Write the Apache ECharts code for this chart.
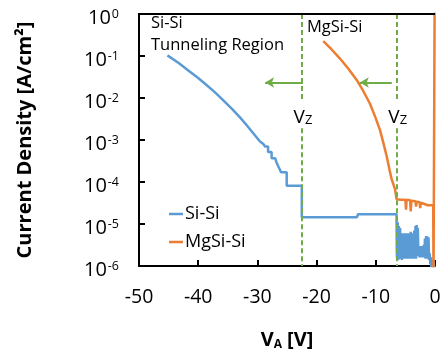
<!DOCTYPE html>
<html>
<head>
<meta charset="utf-8">
<script src="https://cdn.jsdelivr.net/npm/echarts@6/dist/echarts.min.js"></script>
<style>html,body{margin:0;padding:0;background:#fff;}#c{width:446px;height:356px;}</style>
</head>
<body>
<div id="c"></div>
<script>
// ---- Data ----
const seriesNames = ['Si-Si', 'MgSi-Si'];

const siV = [-45.2, -43.3, -41.4, -40.0, -38.6, -37.2, -35.8, -34.3, -32.9, -31.8, -30.7, -29.6,
  -29.0, -28.7, -28.7, -28.2, -28.2, -27.6, -27.6, -27.0, -26.8, -26.5, -26.2, -26.0, -25.05, -25.05,
  -22.5, -22.5, -13.2, -13.0, -6.5, -6.45,
  -6.4, -6.3, -6.2, -6.1, -6.0, -5.9, -5.8, -5.7, -5.6, -5.5,
  -5.4, -5.3, -5.2, -5.1, -5.0, -4.9, -4.8, -4.7, -4.6, -4.5,
  -4.4, -4.3, -4.2, -4.1, -4.0, -3.9, -3.8, -3.7, -3.6, -3.5,
  -3.4, -3.3, -3.2, -3.1, -3.0, -2.9, -2.8, -2.7, -2.6, -2.5,
  -2.4, -2.3, -2.2, -2.1, -2.0, -1.9, -1.8, -1.7, -1.6, -1.5,
  -1.4, -1.3, -1.2, -1.1, -1.0, -0.9, -0.8, -0.7, -0.6, -0.5,
  -0.4, -0.3, -0.2, -0.1, 0];
const siJ = [0.1035, 0.068, 0.042, 0.030, 0.0204, 0.0138, 0.0089, 0.0055, 0.0034, 0.00224, 0.00145, 9.3e-4,
  8.0e-4, 8.0e-4, 7.0e-4, 7.0e-4, 5.2e-4, 5.2e-4, 3.7e-4, 3.7e-4, 3.0e-4, 2.4e-4, 2.4e-4, 1.7e-4, 1.7e-4, 8.1e-5,
  8.1e-5, 1.45e-5, 1.45e-5, 1.7e-5, 1.7e-5, 2e-6,
  1.5e-6, 1.1e-5, 1.4e-6, 9e-6, 1.5e-6, 8e-6, 1.6e-6, 6e-6, 1.4e-6, 6e-6,
  1.6e-6, 5.5e-6, 1.5e-6, 6e-6, 1.7e-6, 5.5e-6, 1.5e-6, 6e-6, 1.6e-6, 5e-6,
  1.5e-6, 6e-6, 1.7e-6, 6.5e-6, 1.5e-6, 6e-6, 1.6e-6, 6e-6, 1.5e-6, 7e-6,
  1.6e-6, 9e-6, 1.5e-6, 9.5e-6, 1.7e-6, 8e-6, 1.8e-6, 3e-6, 1.6e-6, 3e-6,
  1.8e-6, 2.8e-6, 1.6e-6, 3e-6, 1.7e-6, 3.2e-6, 1.6e-6, 4.5e-6, 1.5e-6, 5.2e-6,
  1.6e-6, 5e-6, 1.5e-6, 4.8e-6, 1.4e-6, 2e-6, 1.1e-6, 1.6e-6, 8e-7, 1.4e-6,
  1.2e-6, 1.4e-6, 1.2e-6, 1.3e-6, 5e-7];

const mgV = [-18.87, -17.5, -16.05, -14.6, -13.2, -12.1, -11.0, -10.1, -9.3, -8.7, -8.16, -7.7, -7.31, -6.76, -6.5,
  -6.3, -5.8, -5.6, -5.0, -4.9, -4.8, -4.2, -4.1,
  -4.0, -3.3, -3.2, -3.1, -2.6, -2.5, -2.4, -1.8, -1.6, -1.2,
  -1.1, -0.8, -0.6, -0.3, -0.25, -0.05, -0.05];
const mgJ = [0.226, 0.145, 0.087, 0.049, 0.0266, 0.0145, 0.0074, 0.00355, 0.00174, 8.3e-4, 4.1e-4, 2.0e-4, 1.15e-4, 6.8e-5, 3.9e-5,
  3.8e-5, 3.8e-5, 3.9e-5, 3.8e-5, 2.2e-5, 3.8e-5, 3.7e-5, 2.0e-5,
  3.6e-5, 3.5e-5, 2.6e-5, 3.4e-5, 3.3e-5, 2.4e-5, 3.2e-5, 3.0e-5, 2.7e-5, 2.8e-5,
  3.0e-5, 2.8e-5, 2.9e-5, 2.8e-5, 5e-7, 5e-7, 5];

// Annotation values
const vzV = [-22.5, -6.5];                     // V_Z dashed line positions
const vzGapTop = 0.0088, vzGapBottom = 0.0019; // gap (label) range on the dashed line
const vzLabelJ = 0.0035;
const arrows = [[-22.3, -28.7], [-7.3, -12.7]]; // [from, to] in V
const arrowJ = 0.0234;

const xTicks = [-50, -40, -30, -20, -10, 0];
const yMin = 1e-6, yMax = 1;

// ---- Build ----
const FONT = '"Open Sans", sans-serif';
const zip = (a, b) => a.map((v, i) => [v, b[i]]);
const green = '#70AD47';
const GRID = {left: 139, right: 11, top: 14, bottom: 89};

const dashLines = [];
vzV.forEach(v => {
  dashLines.push([{coord: [v, yMax]}, {coord: [v, vzGapTop]}]);
  dashLines.push([{coord: [v, vzGapBottom]}, {coord: [v, yMin]}]);
});
const arrowLines = arrows.map(a => [{coord: [a[0], arrowJ], symbol: 'none'}, {coord: [a[1], arrowJ], symbol: 'arrow'}]);

const chart = echarts.init(document.getElementById('c'), null, {renderer: 'canvas', width: 446, height: 356});
chart.setOption({
  animation: false,
  backgroundColor: '#fff',
  grid: Object.assign({show: false}, GRID),
  legend: {
    data: seriesNames, orient: 'vertical', left: 164, top: 200, icon: 'rect', itemWidth: 14, itemHeight: 2.5, itemGap: 10,
    textStyle: {fontFamily: FONT, fontSize: 18, color: '#000', padding: [0, 0, 0, -3]}
  },
  xAxis: {
    type: 'value', min: xTicks[0], max: xTicks[xTicks.length - 1], interval: 10,
    name: 'V{sub|A} [V]', nameLocation: 'middle', nameGap: 64,
    nameTextStyle: {fontFamily: FONT, fontSize: 20, fontWeight: 'bold', color: '#000',
      rich: {sub: {fontFamily: FONT, fontSize: 12, fontWeight: 'bold', verticalAlign: 'bottom', padding: [9, 0, 0, 0]}}},
    axisLine: {show: true, onZero: false, lineStyle: {color: '#000', width: 2}},
    axisTick: {show: true, inside: true, length: 6, lineStyle: {color: '#000', width: 2}},
    axisLabel: {fontFamily: FONT, fontSize: 19.5, color: '#000', margin: 21},
    splitLine: {show: false}
  },
  yAxis: {
    type: 'log', logBase: 10, min: yMin, max: yMax,
    name: 'Current Density [A/cm\u00B2]', nameLocation: 'middle', nameGap: 104,
    nameTextStyle: {fontFamily: FONT, fontSize: 20, fontWeight: 'bold', color: '#000'},
    axisLine: {show: true, onZero: false, lineStyle: {color: '#000', width: 2}},
    axisTick: {show: true, inside: true, length: 6, lineStyle: {color: '#000', width: 2}},
    minorTick: {show: false},
    axisLabel: {
      margin: 20, color: '#000', padding: [8, 0, 0, 0],
      formatter: v => '{b|10}{s|' + Math.round(Math.log10(v)) + '}',
      rich: {
        b: {fontFamily: FONT, fontSize: 20, color: '#000'},
        s: {fontFamily: FONT, fontSize: 12.5, color: '#000', verticalAlign: 'top', padding: [0, 0, 8, 1]}
      }
    },
    splitLine: {show: false}
  },
  series: [
    {
      name: seriesNames[0], type: 'line', data: zip(siV, siJ), showSymbol: false, symbol: 'none',
      lineStyle: {color: '#5B9BD5', width: 2.5}, itemStyle: {color: '#5B9BD5'}, clip: true, z: 3,
      markLine: {
        silent: true, symbol: ['none', 'none'], label: {show: false},
        lineStyle: {color: green, width: 2, type: [5, 3]},
        data: dashLines
      }
    },
    {
      name: seriesNames[1], type: 'line', data: zip(mgV, mgJ), showSymbol: false, symbol: 'none',
      lineStyle: {color: '#ED7D31', width: 2.5}, itemStyle: {color: '#ED7D31'}, clip: true, z: 4,
      markLine: {
        silent: true, symbolSize: [8, 9], label: {show: false},
        lineStyle: {color: green, width: 2, type: 'solid'},
        data: arrowLines
      },
      markPoint: {
        silent: true, symbol: 'circle', symbolSize: 1, itemStyle: {color: 'rgba(0,0,0,0)'},
        label: {
          show: true, position: 'inside', formatter: 'V{sub|Z}', color: '#000',
          fontFamily: FONT, fontSize: 19,
          rich: {sub: {fontFamily: FONT, fontSize: 13, color: '#000', verticalAlign: 'bottom', padding: [6, 0, 0, 0]}}
        },
        data: vzV.map(v => ({coord: [v + 0.2, vzLabelJ]}))
      }
    }
  ],
  graphic: [
    {type: 'text', left: 151, top: 15, style: {text: 'Si-Si', fontFamily: FONT, fontSize: 16.5, fill: '#000'}},
    {type: 'text', left: 151, top: 37, style: {text: 'Tunneling Region', fontFamily: FONT, fontSize: 16.5, fill: '#000'}},
    {type: 'text', left: 307, top: 19, style: {text: 'MgSi-Si', fontFamily: FONT, fontSize: 16.5, fill: '#000'}},
    // top frame line of the plot area (frame only, no data)
    {type: 'rect', z: 100, left: GRID.left - 1, top: GRID.top - 1,
      shape: {x: 0, y: 0, width: 446 - GRID.left - GRID.right + 1, height: 2}, style: {fill: '#000'}}
  ]
});
</script>
</body>
</html>
